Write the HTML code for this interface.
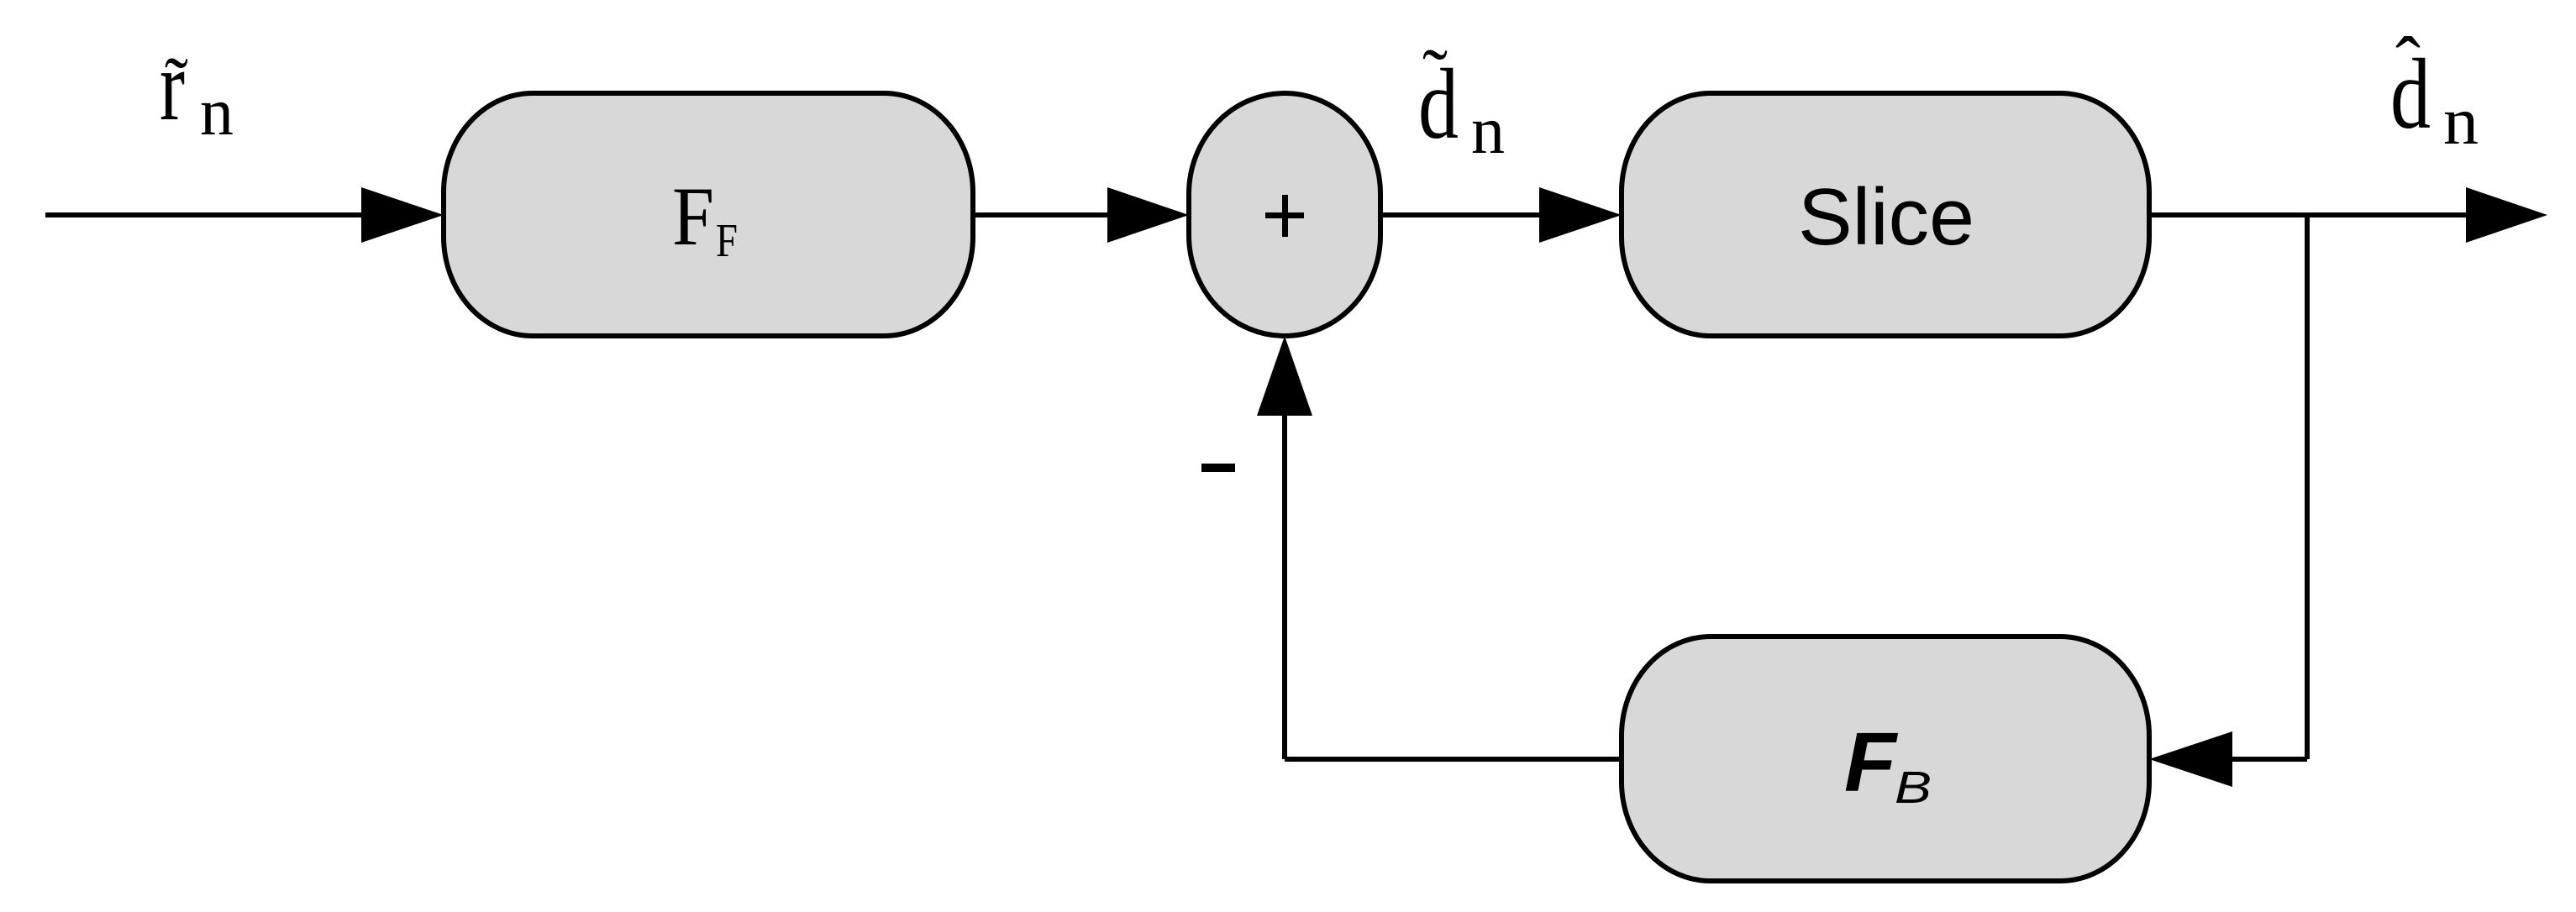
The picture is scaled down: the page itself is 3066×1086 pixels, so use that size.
<!DOCTYPE html>
<html><head><meta charset="utf-8"><style>
html,body{margin:0;padding:0;background:#fff;}
svg{display:block;}
.serif{font-family:"Liberation Serif",serif;}
.sans{font-family:"Liberation Sans",sans-serif;}
</style></head><body>
<svg width="3066" height="1086" viewBox="0 0 3066 1086" xmlns="http://www.w3.org/2000/svg">
<g stroke="#000" stroke-width="6" fill="none">
  <line x1="54" y1="256" x2="440" y2="256"/>
  <line x1="1158" y1="256" x2="1325" y2="256"/>
  <line x1="1643" y1="256" x2="1840" y2="256"/>
  <line x1="2558" y1="256" x2="2945" y2="256"/>
  <line x1="2746" y1="256" x2="2746" y2="904"/>
  <line x1="2746" y1="904" x2="2650" y2="904"/>
  <line x1="1930" y1="904" x2="1529" y2="904"/>
  <line x1="1529" y1="904" x2="1529" y2="485"/>
</g>
<g fill="#000">
  <polygon points="430,223 528,256 430,289"/>
  <polygon points="1318,223 1415,256 1318,289"/>
  <polygon points="1832,223 1930,256 1832,289"/>
  <polygon points="2935,223 3032,256 2935,289"/>
  <polygon points="2657,871 2558,904 2657,937"/>
  <polygon points="1496,495 1529,400 1562,495"/>
</g>
<g fill="#d8d8d8" stroke="#000" stroke-width="6">
  <path d="M634,111 H1052 A106,118 0 0 1 1158,229 V282 A106,118 0 0 1 1052,400 H634 A106,118 0 0 1 528,282 V229 A106,118 0 0 1 634,111 Z"/>
  <path d="M2036,111 H2452 A106,118 0 0 1 2558,229 V282 A106,118 0 0 1 2452,400 H2036 A106,118 0 0 1 1930,282 V229 A106,118 0 0 1 2036,111 Z"/>
  <path d="M2036,758 H2452 A106,118 0 0 1 2558,876 V931 A106,118 0 0 1 2452,1049 H2036 A106,118 0 0 1 1930,931 V876 A106,118 0 0 1 2036,758 Z"/>
  <path d="M1529,111 A114,120 0 0 1 1643,231 V280 A114,120 0 0 1 1529,400 A114,120 0 0 1 1415,280 V231 A114,120 0 0 1 1529,111 Z"/>
</g>
<!-- plus -->
<g fill="#000">
  <rect x="1506" y="253" width="46" height="7"/>
  <rect x="1526" y="232" width="7" height="50"/>
  <rect x="1430" y="552" width="40" height="10"/>
</g>
<!-- labels -->
<g class="serif" fill="#000">
  <text x="190" y="142" font-size="120" textLength="30" lengthAdjust="spacingAndGlyphs">r</text>
  <text x="196" y="130" font-size="90" textLength="28" lengthAdjust="spacingAndGlyphs">˜</text>
  <text x="238" y="160" font-size="80" textLength="40" lengthAdjust="spacingAndGlyphs">n</text>

  <text x="800" y="291" font-size="100" textLength="50" lengthAdjust="spacingAndGlyphs">F</text>
  <text x="852" y="305" font-size="56" textLength="26" lengthAdjust="spacingAndGlyphs">F</text>

  <text x="1688" y="164" font-size="120" textLength="48" lengthAdjust="spacingAndGlyphs">d</text>
  <text x="1693" y="120" font-size="90" textLength="30" lengthAdjust="spacingAndGlyphs">˜</text>
  <text x="1751" y="182" font-size="80" textLength="40" lengthAdjust="spacingAndGlyphs">n</text>

  <text x="2845" y="152" font-size="120" textLength="48" lengthAdjust="spacingAndGlyphs">d</text>
  <text x="2851" y="106" font-size="90" textLength="30" lengthAdjust="spacingAndGlyphs">ˆ</text>
  <text x="2908" y="171" font-size="80" textLength="42" lengthAdjust="spacingAndGlyphs">n</text>
</g>
<text class="sans" x="2140" y="291" font-size="96" textLength="210" lengthAdjust="spacingAndGlyphs">Slice</text>
<text class="sans" x="2195" y="942" font-size="100" font-weight="bold" font-style="italic" textLength="62" lengthAdjust="spacingAndGlyphs">F</text>
<text class="sans" x="2255" y="956" font-size="54" font-style="italic" textLength="44" lengthAdjust="spacingAndGlyphs">B</text>
</svg>
</body></html>
